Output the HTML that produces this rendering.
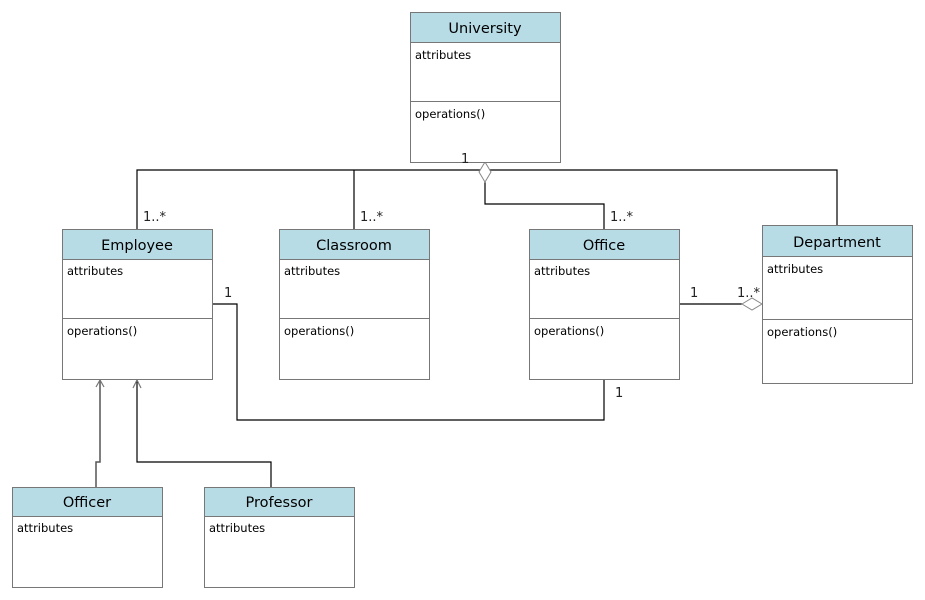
<!DOCTYPE html>
<html><head><meta charset="utf-8"><style>
body{margin:0;background:#fff;}
svg{display:block;font-family:"DejaVu Sans","Liberation Sans",sans-serif;}
.h{font-size:14.5px;text-anchor:middle;fill:#000}
.t{font-size:11.5px;fill:#000}
.m{font-size:13px;fill:#222}
</style></head><body>
<svg width="925" height="600" viewBox="0 0 925 600" xmlns="http://www.w3.org/2000/svg">
<g stroke="#000" stroke-width="1.2" fill="none">
<polyline points="137,229 137,170 837,170 837,225"/>
<line x1="354" y1="170" x2="354" y2="229"/>
<polyline points="485,182 485,204 604,204 604,229"/>
<line x1="679" y1="304" x2="742" y2="304"/>
<polyline points="212,304 237,304 237,420 604,420 604,379"/>
<polyline points="96,487 96,462 100,462 100,380" stroke="#555" stroke-width="1.5"/>
<polyline points="96,387 100,380 104,387" stroke="#777"/>
<polyline points="271,487 271,462 137,462 137,380"/>
<polyline points="133,388 137,380 141,388" stroke="#777"/>
</g>
<polygon points="485,162 491,172 485,182 479,172" fill="#fff" stroke="#888"/>
<polygon points="742,304 752,298 762,304 752,310" fill="#fff" stroke="#888"/>
<g stroke="#777" stroke-width="1">
<rect x="410.5" y="12.5" width="150" height="150" fill="#fff"/>
<rect x="410.5" y="12.5" width="150" height="30" fill="#b8dce6"/>
<line x1="410" y1="101.5" x2="560" y2="101.5"/>
<rect x="62.5" y="229.5" width="150" height="150" fill="#fff"/>
<rect x="62.5" y="229.5" width="150" height="30" fill="#b8dce6"/>
<line x1="62" y1="318.5" x2="212" y2="318.5"/>
<rect x="279.5" y="229.5" width="150" height="150" fill="#fff"/>
<rect x="279.5" y="229.5" width="150" height="30" fill="#b8dce6"/>
<line x1="279" y1="318.5" x2="429" y2="318.5"/>
<rect x="529.5" y="229.5" width="150" height="150" fill="#fff"/>
<rect x="529.5" y="229.5" width="150" height="30" fill="#b8dce6"/>
<line x1="529" y1="318.5" x2="679" y2="318.5"/>
<rect x="762.5" y="225.5" width="150" height="158" fill="#fff"/>
<rect x="762.5" y="225.5" width="150" height="31" fill="#b8dce6"/>
<line x1="762" y1="319.5" x2="912" y2="319.5"/>
<rect x="12.5" y="487.5" width="150" height="100" fill="#fff"/>
<rect x="12.5" y="487.5" width="150" height="29" fill="#b8dce6"/>
<rect x="204.5" y="487.5" width="150" height="100" fill="#fff"/>
<rect x="204.5" y="487.5" width="150" height="29" fill="#b8dce6"/>
</g>
<text class="h" x="485" y="33">University</text>
<text class="t" x="415" y="59">attributes</text>
<text class="t" x="415" y="118">operations()</text>
<text class="h" x="137" y="250">Employee</text>
<text class="t" x="67" y="275">attributes</text>
<text class="t" x="67" y="335">operations()</text>
<text class="h" x="354" y="250">Classroom</text>
<text class="t" x="284" y="275">attributes</text>
<text class="t" x="284" y="335">operations()</text>
<text class="h" x="604" y="250">Office</text>
<text class="t" x="534" y="275">attributes</text>
<text class="t" x="534" y="335">operations()</text>
<text class="h" x="837" y="247">Department</text>
<text class="t" x="767" y="273">attributes</text>
<text class="t" x="767" y="336">operations()</text>
<text class="h" x="87" y="507">Officer</text>
<text class="t" x="17" y="532">attributes</text>
<text class="h" x="279" y="507">Professor</text>
<text class="t" x="209" y="532">attributes</text>
<text class="m" x="461" y="163">1</text>
<text class="m" x="143" y="221">1..*</text>
<text class="m" x="360" y="221">1..*</text>
<text class="m" x="610" y="221">1..*</text>
<text class="m" x="224" y="297">1</text>
<text class="m" x="690" y="297">1</text>
<text class="m" x="737" y="297">1..*</text>
<text class="m" x="615" y="397">1</text>
</svg>
</body></html>
